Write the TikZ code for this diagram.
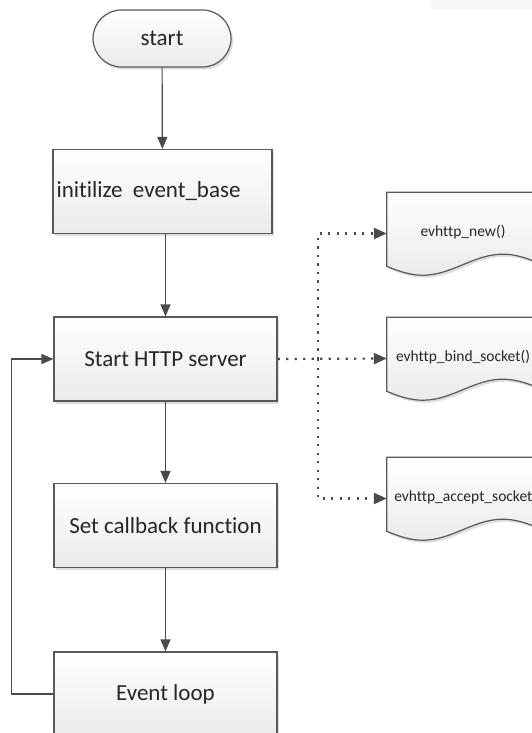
\documentclass[tikz,border=0pt]{standalone}
\usepackage{fontspec}
\setmainfont{Carlito}[Ligatures={NoCommon,NoContextual}]
\usetikzlibrary{arrows.meta,shadows,backgrounds}

\definecolor{edge}{HTML}{595959}
\definecolor{wire}{HTML}{4A4A4A}
\definecolor{ink}{HTML}{262626}

\begin{document}
\begin{tikzpicture}[x=1pt,y=-1pt,
  softshadow/.style={drop shadow={shadow xshift=2pt, shadow yshift=-2.5pt, fill=black, opacity=0.13}},
  panel/.style={draw=edge, line width=1.2pt, top color=white, bottom color=black!8, softshadow},
  box/.style={panel, minimum width=223pt, minimum height=84pt, inner sep=3.5pt,
    font=\fontsize{23}{27}\selectfont, text=ink},
  terminal/.style={panel, rounded corners=28.5pt, minimum width=138pt, minimum height=57pt,
    font=\fontsize{23}{27}\selectfont, text=ink},
  docnode/.style={minimum width=160pt, minimum height=83pt, inner sep=3pt},
  doctext/.style={yshift=1.5pt, font=\fontsize{15.5}{18}\selectfont, text=ink},
  docshape/.style={panel},
  flow/.style={draw=wire, line width=1.2pt, -{Triangle[length=12pt,width=10pt]}},
  link/.style={draw=wire, line width=2.2pt, dash pattern=on 2.2pt off 6.3pt,
    -{Triangle[length=13pt,width=11pt]}}
]
\useasboundingbox (0,0) rectangle (532,733);
\clip (0,0) rectangle (532,733);

% faint strip in the upper right corner
\fill[black!3] (431,0) rectangle (532,9);

% main flow
\node[terminal] (start) at (162,38.5) {start};
\node[box, minimum width=219pt, text width=212pt, align=left] (init) at (162.5,191.5)
  {initilize\hspace{0.45em}event\_base};
\node[box] (http) at (165.5,359) {Start HTTP server};
\node[box] (cb) at (165.5,525.5) {Set callback function};
\node[box] (loop) at (165.5,694) {Event loop};

% libevent calls: outline holders with their labels
\node[docnode] (d1) at (467,233.5) {};
\node[docnode] (d2) at (467,358.5) {};
\node[docnode] (d3) at (467,498.5) {};
\node[doctext, xshift=-4pt] (t1) at (d1) {evhttp\_new()};
\node[doctext, xshift=-4pt] (t2) at (d2) {evhttp\_bind\_socket()};
\node[doctext, xshift=1pt] (t3) at (d3) {evhttp\_accept\_socket()};

% document outlines with a wavy lower edge
\begin{scope}[on background layer]
  \foreach \d in {d1,d2,d3} {
    \begin{scope}[shift={(\d.south west)}]
      \path[docshape] (0,-83) -- (160,-83) -- (160,-8.86)
        -- plot[domain=160:0, samples=60] (\x, {-10.5+10.5*cos(2.25*(\x-36))})
        -- cycle;
    \end{scope}
  }
\end{scope}

% solid connectors
\draw[flow] (start) -- (init);
\draw[flow] (http.north |- init.south) -- (http.north);
\draw[flow] (http) -- (cb);
\draw[flow] (cb) -- (loop);
\draw[flow] (loop.west) -- ++(-42,0) |- (http.west);

% dotted connectors to the calls
\path (http.east) ++(40,0) coordinate (j);
\draw[link] (http.east) -- (d2.west);
\draw[link] (j) |- (d1.west);
\draw[link] (j) |- (d3.west);
\end{tikzpicture}
\end{document}
